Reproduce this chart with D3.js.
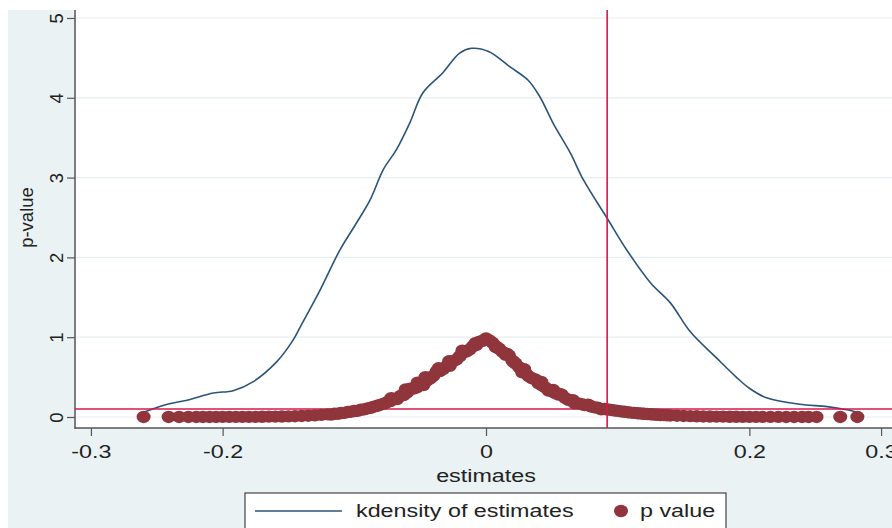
<!DOCTYPE html>
<html>
<head>
<meta charset="utf-8">
<script src="https://cdn.jsdelivr.net/npm/d3@7"></script>
<style>
  html, body { margin: 0; padding: 0; background: #fff; }
  svg { display: block; font-family: "Liberation Sans", Arial, sans-serif; }
</style>
</head>
<body>
<div id="chart"></div>
<script>
// kdensity curve
var densityX = [-0.260, -0.242, -0.227, -0.207, -0.192, -0.177, -0.159, -0.147, -0.141, -0.126,
  -0.111, -0.098, -0.088, -0.078, -0.068, -0.058, -0.048, -0.033, -0.020, -0.011,
  0.002, 0.018, 0.032, 0.041, 0.051, 0.064, 0.074, 0.092, 0.107, 0.125,
  0.140, 0.155, 0.175, 0.190, 0.200, 0.213, 0.238, 0.259, 0.274, 0.284]
var densityY = [0.06, 0.16, 0.21, 0.30, 0.33, 0.44, 0.69, 0.95, 1.13, 1.59,
  2.09, 2.44, 2.72, 3.10, 3.35, 3.68, 4.06, 4.31, 4.56, 4.62,
  4.58, 4.39, 4.22, 4.01, 3.68, 3.31, 2.97, 2.49, 2.09, 1.68,
  1.43, 1.07, 0.74, 0.50, 0.36, 0.24, 0.16, 0.13, 0.09, 0.05]

// p value of each estimate
var estimates = [-0.260, -0.241, -0.233, -0.226, -0.220, -0.215, -0.210, -0.205, -0.200, -0.195,
  -0.190, -0.185, -0.180, -0.175, -0.170, -0.165, -0.160, -0.155, -0.150, -0.145,
  -0.140, -0.135, -0.130, -0.125, -0.120, -0.115, -0.110, -0.105, -0.100, -0.095,
  -0.090, -0.085, -0.080, -0.075, -0.070, -0.065, -0.060, -0.055, -0.050, -0.045,
  -0.040, -0.035, -0.030, -0.025, -0.020, -0.015, -0.010, -0.005, 0.000,
  0.005, 0.010, 0.015, 0.020, 0.025, 0.030, 0.035, 0.040, 0.045, 0.050,
  0.055, 0.060, 0.065, 0.070, 0.075, 0.080, 0.085, 0.090, 0.095, 0.100,
  0.105, 0.110, 0.115, 0.120, 0.125, 0.130, 0.135, 0.140, 0.145, 0.150,
  0.155, 0.160, 0.165, 0.170, 0.175, 0.180, 0.185, 0.190, 0.195, 0.200,
  0.205, 0.210, 0.216, 0.222, 0.228, 0.234, 0.240, 0.245, 0.251, 0.269, 0.282,
  -0.0675, -0.0575, -0.0475, -0.0375, -0.0275, -0.0175, -0.0075,
  0.0075, 0.0175, 0.0275, 0.0375, 0.0475, 0.0575, 0.0675, 0.0775, 0.0875,
  -0.1175, -0.1125, -0.1075, -0.1025, -0.0975, -0.0925, -0.0875, -0.0825, -0.0775, -0.0725,
  -0.0625, -0.0525, -0.0425, -0.0325, -0.0225, -0.0125, -0.0025,
  0.0025, 0.0125, 0.0225, 0.0325, 0.0425, 0.0525, 0.0625, 0.0725, 0.0825, 0.0925,
  0.0975, 0.1025, 0.1075, 0.1125, 0.1175, 0.1225, 0.1275, 0.1325, 0.1375,
  -0.072, -0.061, -0.052, -0.046, -0.036, -0.028, -0.018, -0.008,
  0.008, 0.016, 0.021, 0.029, 0.042, 0.051, 0.056, 0.066, 0.079]
var pValues = [0.000, 0.000, 0.000, 0.000, 0.000, 0.000, 0.000, 0.000, 0.001, 0.001,
  0.001, 0.001, 0.002, 0.002, 0.003, 0.004, 0.005, 0.006, 0.008, 0.010,
  0.013, 0.016, 0.020, 0.026, 0.033, 0.041, 0.050, 0.062, 0.075, 0.090,
  0.108, 0.130, 0.155, 0.185, 0.225, 0.265, 0.305, 0.355, 0.405, 0.455,
  0.515, 0.575, 0.635, 0.700, 0.760, 0.820, 0.885, 0.945, 0.985,
  0.930, 0.855, 0.780, 0.705, 0.625, 0.550, 0.485, 0.420, 0.370, 0.320,
  0.280, 0.240, 0.205, 0.170, 0.150, 0.130, 0.115, 0.100, 0.088, 0.076,
  0.065, 0.055, 0.047, 0.040, 0.034, 0.028, 0.023, 0.019, 0.016, 0.013,
  0.011, 0.009, 0.007, 0.006, 0.005, 0.004, 0.003, 0.003, 0.002, 0.002,
  0.001, 0.001, 0.001, 0.001, 0.000, 0.000, 0.000, 0.000, 0.000, 0.000, 0.000,
  0.225, 0.355, 0.400, 0.570, 0.640, 0.810, 0.900,
  0.875, 0.770, 0.560, 0.470, 0.330, 0.280, 0.170, 0.155, 0.097,
  0.030, 0.040, 0.052, 0.066, 0.078, 0.096, 0.115, 0.140, 0.168, 0.200,
  0.275, 0.370, 0.480, 0.600, 0.720, 0.845, 0.955,
  0.960, 0.815, 0.670, 0.510, 0.395, 0.300, 0.215, 0.160, 0.120, 0.093,
  0.082, 0.070, 0.060, 0.051, 0.043, 0.037, 0.031, 0.025, 0.021,
  0.235, 0.345, 0.430, 0.500, 0.610, 0.700, 0.830, 0.925,
  0.880, 0.790, 0.690, 0.600, 0.440, 0.340, 0.290, 0.210, 0.140]

var xTicks = [-0.3, -0.2, 0, 0.2, 0.3]
var yTicks = [0, 1, 2, 3, 4, 5]
var pCut = 0.1
var estCut = 0.092
var legendLabels = ["kdensity of estimates", "p value"]

var W = 892, H = 528
var stretch = "scale(1.26,1)"
var fmtX = d => d == 0 ? "0" : d3.format(".1f")(d).replace("\u2212", "-")

var svg = d3.select("#chart").append("svg")
  .attr("width", W)
  .attr("height", H)

// graph background
svg.append("rect").attr("x", 8).attr("y", 10).attr("width", W - 8).attr("height", H - 10)
  .attr("fill", "#eaf2f3")

var x = d3.scaleLinear().domain([-0.3121, 0.3083]).range([75, 892])
var y = d3.scaleLinear().domain([-0.138, 5.10]).range([428, 10])

// plot region
svg.append("rect").attr("x", 75).attr("y", 10).attr("width", W - 75).attr("height", 418)
  .attr("fill", "#fff")

// grid
svg.selectAll(".grid").data(yTicks).enter().append("line")
  .attr("class", "grid")
  .attr("x1", 75).attr("x2", W)
  .attr("y1", d => y(d)).attr("y2", d => y(d))
  .attr("stroke", "#e6eef1").attr("stroke-width", 1.2)

// y axis
var gy = svg.append("g").attr("transform", "translate(75,0)")
  .call(d3.axisLeft(y).tickValues(yTicks).tickSize(8).tickFormat(d3.format("d")))
gy.select(".domain").remove()
gy.selectAll(".tick line").attr("stroke", "#555").attr("stroke-width", 1.2)
gy.selectAll(".tick text").remove()
gy.selectAll(".tick").append("text")
  .attr("transform", "translate(-12,0) rotate(-90)")
  .attr("text-anchor", "middle")
  .attr("fill", "#222")
  .style("font-size", "18.5px")
  .text(d => d)

// x axis
var gx = svg.append("g").attr("transform", "translate(0,428)")
  .call(d3.axisBottom(x).tickValues(xTicks).tickSize(8).tickFormat(fmtX))
gx.select(".domain").remove()
gx.selectAll(".tick line").attr("stroke", "#555").attr("stroke-width", 1.2)
gx.selectAll(".tick text").remove()
gx.selectAll(".tick").append("text")
  .attr("transform", "translate(0,30) " + stretch)
  .attr("text-anchor", "middle")
  .attr("fill", "#222")
  .style("font-size", "18.5px")
  .text(fmtX)

// axis lines
svg.append("line").attr("x1", 75).attr("x2", 75).attr("y1", 10).attr("y2", 429)
  .attr("stroke", "#555").attr("stroke-width", 1.5)
svg.append("line").attr("x1", 75).attr("x2", W).attr("y1", 428).attr("y2", 428)
  .attr("stroke", "#555").attr("stroke-width", 1.5)

// axis titles
svg.append("text")
  .attr("transform", "translate(" + x(0) + ",482) " + stretch)
  .attr("text-anchor", "middle").attr("fill", "#222")
  .style("font-size", "18.5px")
  .text("estimates")
svg.append("text")
  .attr("transform", "translate(33," + y(2.5) + ") rotate(-90)")
  .attr("text-anchor", "middle").attr("fill", "#222")
  .style("font-size", "18.5px")
  .text("p-value")

// kdensity line
var line = d3.line()
  .x((d, i) => x(densityX[i]))
  .y(d => y(d))
  .curve(d3.curveCatmullRom.alpha(0.5))
svg.append("path").datum(densityY)
  .attr("d", line)
  .attr("fill", "none")
  .attr("stroke", "#2a5479")
  .attr("stroke-width", 1.6)

// reference lines
svg.append("line").attr("x1", 75).attr("x2", W).attr("y1", y(pCut)).attr("y2", y(pCut))
  .attr("stroke", "#d6194a").attr("stroke-width", 1.6)

// p value dots
svg.selectAll(".dot").data(estimates).enter().append("ellipse")
  .attr("class", "dot")
  .attr("cx", d => x(d))
  .attr("cy", (d, i) => y(pValues[i]))
  .attr("rx", 7).attr("ry", 6.2)
  .attr("fill", "#90353b")

svg.append("line").attr("x1", x(estCut)).attr("x2", x(estCut)).attr("y1", 10).attr("y2", 428)
  .attr("stroke", "#d6194a").attr("stroke-width", 1.6)

// legend
var lg = svg.append("g")
lg.append("rect").attr("x", 245).attr("y", 493).attr("width", 481).attr("height", 45)
  .attr("fill", "#fff").attr("stroke", "#444").attr("stroke-width", 1.2)
lg.append("line").attr("x1", 255).attr("x2", 342).attr("y1", 511).attr("y2", 511)
  .attr("stroke", "#2a5479").attr("stroke-width", 1.6)
lg.append("text").attr("transform", "translate(356,517) " + stretch)
  .attr("fill", "#222").style("font-size", "18.5px")
  .text(legendLabels[0])
lg.append("ellipse").attr("cx", 621).attr("cy", 511).attr("rx", 7).attr("ry", 6.2)
  .attr("fill", "#90353b")
lg.append("text").attr("transform", "translate(640,517) " + stretch)
  .attr("fill", "#222").style("font-size", "18.5px")
  .text(legendLabels[1])
</script>
</body>
</html>
